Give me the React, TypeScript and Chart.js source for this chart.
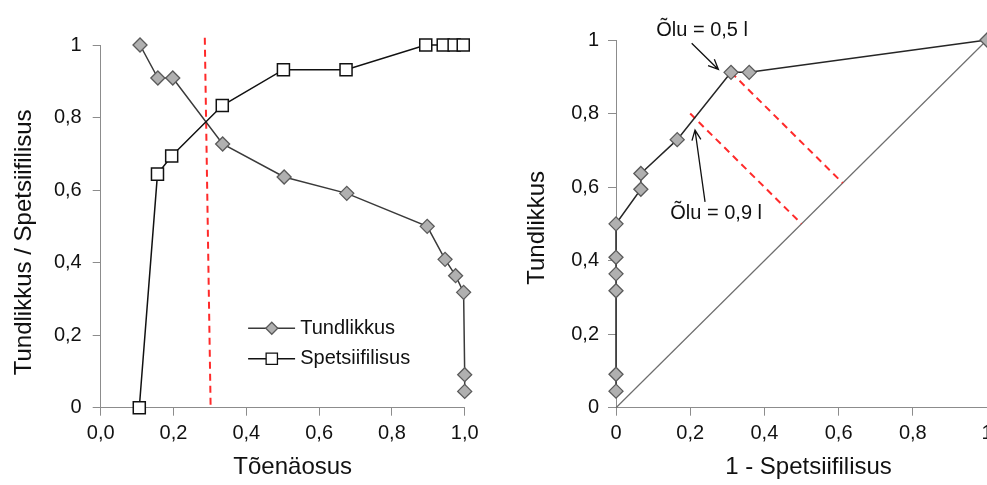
import React, { useEffect, useRef } from "react";
import { Chart, registerables } from "chart.js";

Chart.register(...registerables);

const FONT_FAMILY = "'Liberation Sans', Arial, sans-serif";
const AXIS_COLOR = "#8c8c8c";
const TEXT_COLOR = "#111111";

// ---------- Left chart data ----------
const seriesNames = ["Tundlikkus", "Spetsiifilisus"];
const sensProbability = [0.108, 0.157, 0.198, 0.335, 0.504, 0.676, 0.897, 0.946, 0.975, 0.997, 1.0, 1.0];
const sensitivity = [1.0, 0.909, 0.909, 0.727, 0.636, 0.591, 0.5, 0.409, 0.364, 0.318, 0.091, 0.045];
const specProbability = [0.106, 0.156, 0.195, 0.334, 0.502, 0.674, 0.893, 0.941, 0.971, 0.996];
const specificity = [0.0, 0.644, 0.694, 0.833, 0.932, 0.932, 1.0, 1.0, 1.0, 1.0];
const cutoffX = [0.286, 0.302];
const cutoffY = [1.02, 0.0];
const leftXTickLabels = ["0,0", "0,2", "0,4", "0,6", "0,8", "1,0"];
const leftYTickLabels = ["0", "0,2", "0,4", "0,6", "0,8", "1"];
const leftXTitle = "Tõenäosus";
const leftYTitle = "Tundlikkus / Spetsiifilisus";

// ---------- Right chart data ----------
const rocFpr = [0, 0, 0, 0, 0, 0, 0.067, 0.067, 0.165, 0.31, 0.359, 1.0];
const rocTpr = [0.045, 0.091, 0.318, 0.364, 0.409, 0.5, 0.594, 0.637, 0.729, 0.912, 0.912, 1.0];
const diagX = [0, 1];
const diagY = [0, 1];
const cut05X = [0.31, 0.611];
const cut05Y = [0.912, 0.611];
const cut09X = [0.2, 0.5];
const cut09Y = [0.8, 0.5];
const rightXTickLabels = ["0", "0,2", "0,4", "0,6", "0,8", "1"];
const rightYTickLabels = ["0", "0,2", "0,4", "0,6", "0,8", "1"];
const rightXTitle = "1 - Spetsiifilisus";
const rightYTitle = "Tundlikkus";
const annotationTexts = ["Õlu = 0,5 l", "Õlu = 0,9 l"];
const annotationTextPos = [[0.232, 1.025], [0.27, 0.529]];
const annotationArrowFrom = [[0.204, 0.991], [0.24, 0.56]];
const annotationArrowTo = [[0.276, 0.92], [0.213, 0.755]];

const toPoints = (xs: number[], ys: number[]) => xs.map((x, i) => ({ x, y: ys[i] }));

const DIAMOND_FILL = "#b0b0b0";
const DIAMOND_BORDER = "#5a5a5a";

function drawMarker(ctx: CanvasRenderingContext2D, style: string, x: number, y: number, r: number, fill: string, stroke: string, lw: number) {
  ctx.beginPath();
  if (style === "rectRot") {
    ctx.moveTo(x, y - r);
    ctx.lineTo(x + r, y);
    ctx.lineTo(x, y + r);
    ctx.lineTo(x - r, y);
    ctx.closePath();
  } else {
    const s = r * Math.SQRT1_2;
    ctx.rect(x - s, y - s, 2 * s, 2 * s);
  }
  ctx.fillStyle = fill;
  ctx.fill();
  ctx.lineWidth = lw;
  ctx.strokeStyle = stroke;
  ctx.stroke();
}

function makeAxis(labels: string[], fit: (s: any) => void, tickPadding: number) {
  return {
    type: "linear",
    min: 0,
    max: 1,
    ticks: {
      stepSize: 0.2,
      autoSkip: false,
      maxRotation: 0,
      padding: tickPadding,
      color: TEXT_COLOR,
      font: { family: FONT_FAMILY, size: 20 },
      callback: (v: number) => labels[Math.round(v / 0.2)],
    },
    grid: {
      drawOnChartArea: false,
      drawTicks: true,
      tickLength: 8,
      color: AXIS_COLOR,
      tickColor: AXIS_COLOR,
      lineWidth: 1,
    },
    border: { display: true, color: AXIS_COLOR, width: 1 },
    title: { display: false },
    afterFit: fit,
  };
}

// Axis titles: offsets are relative to the plot area (centre of the axis span).
function axisTitlesPlugin(xTitle: string, yTitle: string, xShift: number, yShift: number, yTitleX: number) {
  return {
    id: "axisTitles",
    afterDraw(chart: any) {
      const { ctx, chartArea } = chart;
      ctx.save();
      ctx.fillStyle = TEXT_COLOR;
      ctx.font = `24px ${FONT_FAMILY}`;
      ctx.textAlign = "center";
      ctx.textBaseline = "middle";
      ctx.fillText(xTitle, (chartArea.left + chartArea.right) / 2 + xShift, 467);
      ctx.translate(yTitleX, (chartArea.top + chartArea.bottom) / 2 + yShift);
      ctx.rotate(-Math.PI / 2);
      ctx.fillText(yTitle, 0, 0);
      ctx.restore();
    },
  };
}

const insideLegend = {
  id: "insideLegend",
  afterDraw(chart: any) {
    const { ctx, scales } = chart;
    const xs = scales.x;
    const ys = scales.y;
    const rows = [
      { y: 0.219, style: "rectRot", r: 6, fill: DIAMOND_FILL, stroke: DIAMOND_BORDER, line: "#3a3a3a" },
      { y: 0.135, style: "rect", r: 8, fill: "#ffffff", stroke: "#111111", line: "#111111" },
    ];
    ctx.save();
    rows.forEach((row, i) => {
      const py = ys.getPixelForValue(row.y);
      const x0 = xs.getPixelForValue(0.405);
      const x1 = xs.getPixelForValue(0.534);
      const xm = xs.getPixelForValue(0.470);
      ctx.beginPath();
      ctx.moveTo(x0, py);
      ctx.lineTo(x1, py);
      ctx.lineWidth = 1.5;
      ctx.strokeStyle = row.line;
      ctx.stroke();
      drawMarker(ctx, row.style, xm, py, row.r, row.fill, row.stroke, 1.3);
      ctx.fillStyle = TEXT_COLOR;
      ctx.font = `20px ${FONT_FAMILY}`;
      ctx.textAlign = "left";
      ctx.textBaseline = "middle";
      ctx.fillText(seriesNames[i], xs.getPixelForValue(0.548), py);
    });
    ctx.restore();
  },
};

const annotations = {
  id: "annotations",
  afterDraw(chart: any) {
    const { ctx, scales } = chart;
    const xs = scales.x;
    const ys = scales.y;
    ctx.save();
    ctx.font = `20px ${FONT_FAMILY}`;
    ctx.fillStyle = TEXT_COLOR;
    ctx.textAlign = "center";
    ctx.textBaseline = "middle";
    annotationTexts.forEach((t, i) => {
      ctx.fillText(t, xs.getPixelForValue(annotationTextPos[i][0]), ys.getPixelForValue(annotationTextPos[i][1]));
      const fx = xs.getPixelForValue(annotationArrowFrom[i][0]);
      const fy = ys.getPixelForValue(annotationArrowFrom[i][1]);
      const tx = xs.getPixelForValue(annotationArrowTo[i][0]);
      const ty = ys.getPixelForValue(annotationArrowTo[i][1]);
      ctx.beginPath();
      ctx.moveTo(fx, fy);
      ctx.lineTo(tx, ty);
      const ang = Math.atan2(ty - fy, tx - fx);
      const L = 11;
      const A = 0.42;
      ctx.moveTo(tx - L * Math.cos(ang - A), ty - L * Math.sin(ang - A));
      ctx.lineTo(tx, ty);
      ctx.lineTo(tx - L * Math.cos(ang + A), ty - L * Math.sin(ang + A));
      ctx.lineWidth = 1.3;
      ctx.strokeStyle = "#111111";
      ctx.stroke();
    });
    ctx.restore();
  },
};

function leftConfig(): any {
  return {
    type: "scatter",
    data: {
      datasets: [
        {
          label: seriesNames[0],
          data: toPoints(sensProbability, sensitivity),
          showLine: true,
          borderColor: "#3a3a3a",
          borderWidth: 1.5,
          pointStyle: "rectRot",
          pointRadius: 7,
          pointBackgroundColor: DIAMOND_FILL,
          pointBorderColor: DIAMOND_BORDER,
          pointBorderWidth: 1.3,
          clip: false,
          order: 1,
        },
        {
          label: seriesNames[1],
          data: toPoints(specProbability, specificity),
          showLine: true,
          borderColor: "#111111",
          borderWidth: 1.5,
          pointStyle: "rect",
          pointRadius: 8.5,
          pointBackgroundColor: "#ffffff",
          pointBorderColor: "#111111",
          pointBorderWidth: 1.5,
          clip: false,
          order: 0,
        },
        {
          label: "cutoff",
          data: toPoints(cutoffX, cutoffY),
          showLine: true,
          borderColor: "#ff2a2a",
          borderWidth: 2,
          borderDash: [7, 5],
          pointRadius: 0,
          clip: false,
          order: 2,
        },
      ],
    },
    options: {
      responsive: false,
      animation: false,
      events: [],
      layout: { padding: { top: 45, right: 35.3, left: 0, bottom: 0 } },
      plugins: { legend: { display: false }, tooltip: { enabled: false } },
      scales: {
        x: makeAxis(leftXTickLabels, (s: any) => { s.height = 77.3; }, 6),
        y: makeAxis(leftYTickLabels, (s: any) => { s.width = 100.7; }, 11),
      },
    },
    plugins: [insideLegend, axisTitlesPlugin(leftXTitle, leftYTitle, 10, 16, 24)],
  };
}

function rightConfig(): any {
  return {
    type: "scatter",
    data: {
      datasets: [
        {
          label: seriesNames[0],
          data: toPoints(rocFpr, rocTpr),
          showLine: true,
          borderColor: "#262626",
          borderWidth: 1.5,
          pointStyle: "rectRot",
          pointRadius: 7,
          pointBackgroundColor: DIAMOND_FILL,
          pointBorderColor: DIAMOND_BORDER,
          pointBorderWidth: 1.3,
          clip: false,
          order: 0,
        },
        {
          label: "diagonal",
          data: toPoints(diagX, diagY),
          showLine: true,
          borderColor: "#6e6e6e",
          borderWidth: 1.2,
          pointRadius: 0,
          clip: false,
          order: 2,
        },
        {
          label: "cut05",
          data: toPoints(cut05X, cut05Y),
          showLine: true,
          borderColor: "#ff2a2a",
          borderWidth: 2,
          borderDash: [7, 5],
          pointRadius: 0,
          clip: false,
          order: 1,
        },
        {
          label: "cut09",
          data: toPoints(cut09X, cut09Y),
          showLine: true,
          borderColor: "#ff2a2a",
          borderWidth: 2,
          borderDash: [7, 5],
          pointRadius: 0,
          clip: false,
          order: 1,
        },
      ],
    },
    options: {
      responsive: false,
      animation: false,
      events: [],
      layout: { padding: { top: 40, right: 13, left: 0, bottom: 0 } },
      plugins: { legend: { display: false }, tooltip: { enabled: false } },
      scales: {
        x: makeAxis(rightXTickLabels, (s: any) => { s.height = 77.3; }, 6),
        y: makeAxis(rightYTickLabels, (s: any) => { s.width = 136; }, 9),
      },
    },
    plugins: [annotations, axisTitlesPlugin(rightXTitle, rightYTitle, 7, 4, 57)],
  };
}

export default function App() {
  const leftRef = useRef<HTMLCanvasElement>(null);
  const rightRef = useRef<HTMLCanvasElement>(null);

  useEffect(() => {
    const c1 = new Chart(leftRef.current as HTMLCanvasElement, leftConfig());
    const c2 = new Chart(rightRef.current as HTMLCanvasElement, rightConfig());
    return () => {
      c1.destroy();
      c2.destroy();
    };
  }, []);

  return (
    <div style={{ position: "absolute", left: 0, top: 0, width: 987, height: 485, overflow: "hidden", background: "#ffffff" }}>
      <canvas ref={leftRef} width={500} height={485} style={{ position: "absolute", left: 0, top: 0, width: 500, height: 485 }} />
      <canvas ref={rightRef} width={520} height={485} style={{ position: "absolute", left: 480, top: 0, width: 520, height: 485 }} />
    </div>
  );
}
